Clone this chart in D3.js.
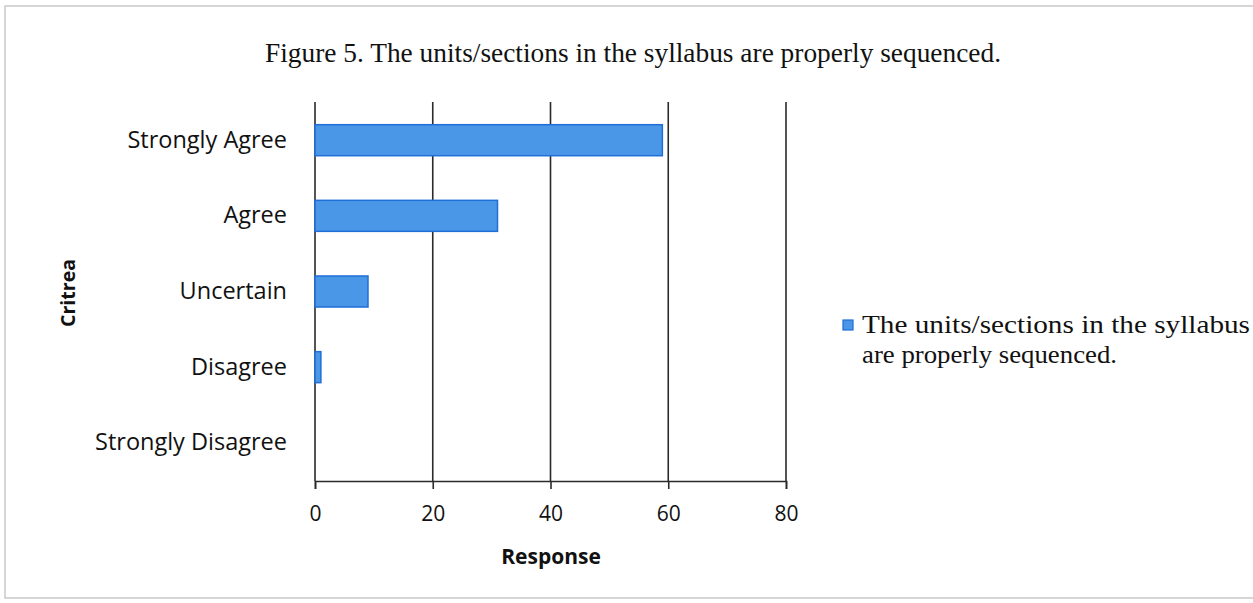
<!DOCTYPE html>
<html><head><meta charset="utf-8">
<script src="https://cdn.jsdelivr.net/npm/d3@7"></script>
<style>body{margin:0;background:#fff}svg{display:block}</style>
</head><body>
<svg id="c" width="1253" height="603"></svg>
<script>
const categories = ["Strongly Agree","Agree","Uncertain","Disagree","Strongly Disagree"];
const values = [59, 31, 9, 1, 0];
const xTicks = [0, 20, 40, 60, 80];
const titleText = "Figure 5. The units/sections in the syllabus are properly sequenced.";
const seriesName = ["The units/sections in the syllabus", "are properly sequenced."];
const xLabel = "Response";
const yLabel = "Critrea";

(function(){
const svg = d3.select("#c");
svg.append("rect").attr("x",5).attr("y",6).attr("width",1260).attr("height",592)
  .attr("fill","#fff").attr("stroke","#bbb").attr("stroke-width",1.2);

const pL = 315, pR = 786, pT = 102, pB = 481;
const x = d3.scaleLinear().domain([0,80]).range([pL,pR]);
const y = d3.scaleBand().domain(categories).range([pT,pB]).paddingInner(0.59).paddingOuter(0.3);

svg.append("g").selectAll("line").data(xTicks).join("line")
  .attr("x1",d=>x(d)).attr("x2",d=>x(d)).attr("y1",pT).attr("y2",pB)
  .attr("stroke","#2a2a2a").attr("stroke-width",1.6);

svg.append("g").selectAll("rect").data(values).join("rect")
  .attr("x",x(0)).attr("y",(d,i)=>y(categories[i]))
  .attr("width",d=>x(d)-x(0)).attr("height",y.bandwidth())
  .attr("fill","#4a97e8").attr("stroke","#1f6fd6").attr("stroke-width",1.5)
  .attr("stroke-opacity",d=>d>0?1:0);

const xa = svg.append("g").attr("transform",`translate(0,${pB})`)
  .call(d3.axisBottom(x).tickValues(xTicks).tickSize(8).tickPadding(17));
xa.select(".domain").attr("stroke","#2a2a2a").attr("stroke-width",1.6);
xa.selectAll(".tick line").attr("stroke","#2a2a2a").attr("stroke-width",1.6);
xa.selectAll("text").attr("font-family","'Open Sans', sans-serif").attr("font-size",21).attr("fill","#111");

const ya = svg.append("g").attr("transform",`translate(${pL},0)`)
  .call(d3.axisLeft(y).tickSize(0).tickPadding(28));
ya.select(".domain").remove();
ya.selectAll("text").attr("font-family","'Open Sans', sans-serif").attr("font-size",23.5).attr("fill","#111");

svg.append("text").attr("x",551).attr("y",564).attr("text-anchor","middle")
  .attr("font-family","'Open Sans', sans-serif").attr("font-weight","bold").attr("font-size",21).attr("fill","#111").text(xLabel);
svg.append("text").attr("transform","translate(75,293) rotate(-90)").attr("text-anchor","middle")
  .attr("font-family","'Open Sans', sans-serif").attr("font-weight","bold").attr("font-size",19.5).attr("fill","#111").text(yLabel);

svg.append("text").attr("x",265).attr("y",62).attr("textLength",736).attr("lengthAdjust","spacingAndGlyphs")
  .attr("font-family","'Liberation Serif', serif").attr("font-size",27).attr("fill","#111").text(titleText);

svg.append("rect").attr("x",843).attr("y",320).attr("width",10).attr("height",10)
  .attr("fill","#4a97e8").attr("stroke","#1f6fd6").attr("stroke-width",1.2);
svg.append("text").attr("x",862).attr("y",333).attr("textLength",388).attr("lengthAdjust","spacingAndGlyphs")
  .attr("font-family","'Liberation Serif', serif").attr("font-size",26).attr("fill","#111").text(seriesName[0]);
svg.append("text").attr("x",862).attr("y",363).attr("textLength",255).attr("lengthAdjust","spacingAndGlyphs")
  .attr("font-family","'Liberation Serif', serif").attr("font-size",26).attr("fill","#111").text(seriesName[1]);
})();
</script>
</body></html>
